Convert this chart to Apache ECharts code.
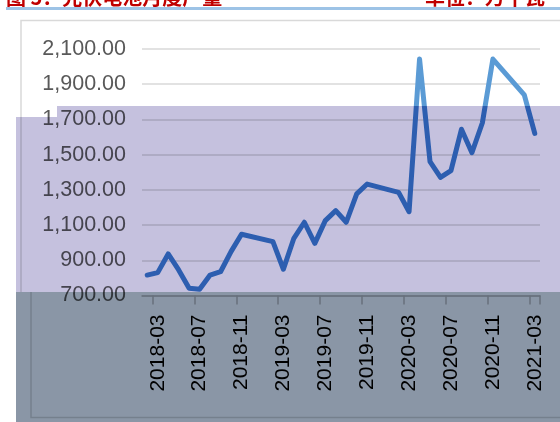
<!DOCTYPE html>
<html>
<head>
<meta charset="utf-8">
<title>光伏电池产量</title>
<script src="https://cdn.jsdelivr.net/npm/echarts@6/dist/echarts.min.js"></script>
<style>
  html, body { margin: 0; padding: 0; background: #fff; }
  #chart { width: 560px; height: 422px; }
</style>
</head>
<body>
<div id="chart"></div>
<script>
// Monthly categories (Dec/Jan not reported, kept as gaps).
var months = [
  '2018-02', '2018-03', '2018-04', '2018-05', '2018-06', '2018-07', '2018-08', '2018-09', '2018-10', '2018-11', '2018-12',
  '2019-01', '2019-02', '2019-03', '2019-04', '2019-05', '2019-06', '2019-07', '2019-08', '2019-09', '2019-10', '2019-11', '2019-12',
  '2020-01', '2020-02', '2020-03', '2020-04', '2020-05', '2020-06', '2020-07', '2020-08', '2020-09', '2020-10', '2020-11', '2020-12',
  '2021-01', '2021-02', '2021-03'
];

// Output.
var output = [
  816, 830, 936, 845, 741, 735, 816, 835, 949, 1048, null,
  null, 1006, 849, 1025, 1116, 996, 1125, 1182, 1116, 1277, 1333, null,
  null, 1286, 1176, 2043, 1460, 1371, 1409, 1644, 1511, 1681, 2043, null,
  null, 1839, 1621
];

var yMin = 700;
var yMax = 2100;
var yStep = 200;

var titleLeft = '图 5：光伏电池月度产量';
var titleRight = '单位：万千瓦';

var chart = echarts.init(document.getElementById('chart'), null, {renderer: 'canvas'});

// Labels and ticks every 4 months, starting at 2018-03.
var everyFourth = function (index) {
  return index % 4 === 1;
};

var labelFont = 'Liberation Sans';

var option = {
  animation: false,
  backgroundColor: '#fff',
  grid: {
    left: 142,
    right: 20,
    top: 49,
    bottom: 126.5,
    outerBoundsMode: 'none'
  },
  xAxis: {
    type: 'category',
    data: months,
    boundaryGap: true,
    axisLine: {
      lineStyle: {color: '#bfbfbf', width: 1.5}
    },
    axisTick: {
      show: true,
      length: 9,
      interval: everyFourth,
      lineStyle: {color: '#bfbfbf', width: 1.5}
    },
    axisLabel: {
      rotate: 90,
      interval: everyFourth,
      margin: 19,
      color: '#000',
      fontSize: 21,
      fontFamily: labelFont
    },
    splitLine: {show: false}
  },
  yAxis: {
    type: 'value',
    min: yMin,
    max: yMax,
    interval: yStep,
    axisLine: {show: false},
    axisTick: {show: false},
    splitLine: {
      lineStyle: {color: '#d9d9d9', width: 1.5}
    },
    axisLabel: {
      margin: 16,
      color: '#595959',
      fontSize: 21.5,
      fontFamily: labelFont,
      formatter: function (v) {
        return v.toLocaleString('en-US', {minimumFractionDigits: 2, maximumFractionDigits: 2});
      }
    }
  },
  series: [{
    name: '产量',
    type: 'line',
    data: output,
    connectNulls: true,
    symbol: 'none',
    lineStyle: {
      width: 5,
      cap: 'round',
      join: 'round',
      color: {
        type: 'linear',
        x: 0, y: 0, x2: 0, y2: 422,
        global: true,
        colorStops: [
          {offset: 0, color: '#5b9bd5'},
          {offset: 0.251, color: '#5b9bd5'},
          {offset: 0.251, color: '#3a7cca'},
          {offset: 1, color: '#3a7cca'}
        ]
      }
    }
  }],
  graphic: [
    // Cropped report title.
    {
      type: 'text', z: 10,
      style: {text: titleLeft, x: 6, y: 7.5, verticalAlign: 'bottom', fill: '#c00000',
        font: 'bold 20px "Noto Sans CJK SC"'}
    },
    {
      type: 'text', z: 10,
      style: {text: titleRight, x: 425, y: 7.5, verticalAlign: 'bottom', fill: '#c00000',
        font: 'bold 20px "Noto Sans CJK SC"'}
    },
    {
      type: 'line', z: 10,
      shape: {x1: 6, y1: 8.5, x2: 560, y2: 8.5},
      style: {stroke: '#9dc3e6', lineWidth: 3}
    },
    // Chart frame.
    {
      type: 'polyline', z: 10,
      shape: {points: [[21, 292], [21, 20.5], [560, 20.5]]},
      style: {stroke: '#d9d9d9', lineWidth: 1.5, fill: null}
    },
    {
      type: 'polyline', z: 10,
      shape: {points: [[31, 292], [31, 417.5], [560, 417.5]]},
      style: {stroke: '#d9d9d9', lineWidth: 1.5, fill: null}
    },
    // Tinted overlays.
    {
      type: 'rect', z: 100,
      shape: {x: 57, y: 106, width: 503, height: 186},
      style: {fill: '#c5c1de', blend: 'multiply'}
    },
    {
      type: 'rect', z: 100,
      shape: {x: 16, y: 117, width: 41, height: 175},
      style: {fill: '#c5c1de', blend: 'multiply'}
    },
    {
      type: 'rect', z: 100,
      shape: {x: 16, y: 292, width: 544, height: 130},
      style: {fill: '#8a96a6', blend: 'multiply'}
    }
  ]
};

chart.setOption(option);
</script>
</body>
</html>
